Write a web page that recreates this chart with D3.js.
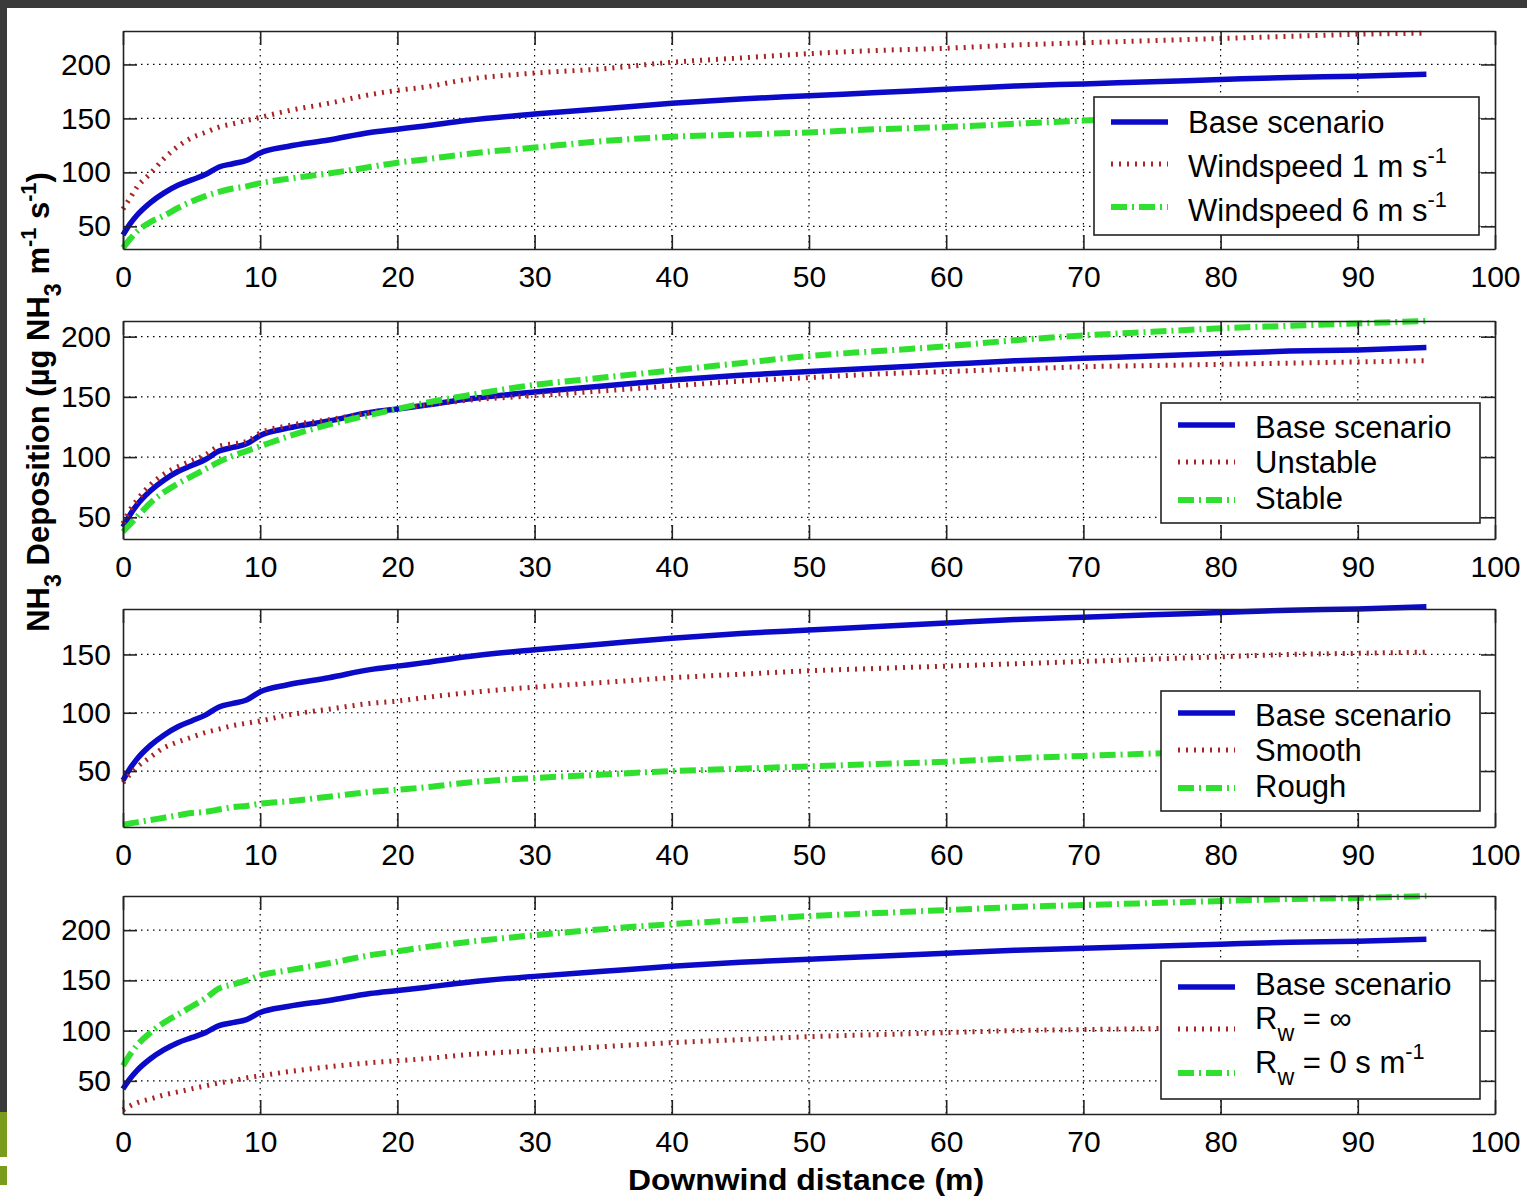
<!DOCTYPE html>
<html>
<head>
<meta charset="utf-8">
<script src="https://cdn.jsdelivr.net/npm/d3@7"></script>
<style>
  html, body { margin: 0; padding: 0; background: #fff; }
  svg { display: block; }
  text { font-family: "Liberation Sans", Arial, Helvetica, sans-serif; fill: #000; }
</style>
</head>
<body>
<div id="chart"></div>
<script>
const distance = [0, 0.5, 1, 2, 3, 4, 5, 6, 7, 8, 9, 10, 12, 15, 18, 20, 22, 25, 30, 35, 40, 45, 50, 55, 60, 65, 70, 75, 80, 85, 90, 95];

// NH3 deposition (ug NH3 m-1 s-1)
const baseScenario = [42, 52, 60, 72, 81, 88, 93, 98, 105, 108, 111, 118, 124, 130, 137, 140, 143, 148, 154, 159, 164, 168, 171, 174, 177, 180, 182, 184, 186, 188, 189, 191];
const windspeed1   = [66, 76, 86, 99, 113, 124, 132, 137, 142, 145, 148, 151, 157, 164, 172, 176, 179, 186, 192, 196, 202, 206, 210, 213, 215, 218, 220, 222, 224, 226, 228, 229];
const windspeed6   = [30, 38, 45, 54, 60, 67, 73, 78, 82, 85, 87, 90, 94, 99, 105, 109, 112, 117, 123, 129, 133, 135, 137, 140, 142, 145, 148, 150, 152, 154, 156, 158];
const unstable     = [45, 56, 64, 77, 86, 92, 97, 102, 109, 111, 113, 120, 126, 131, 137, 140, 143, 147, 151, 155, 159, 163, 166, 169, 171, 173, 175, 176, 177, 178, 179, 180];
const stable       = [38, 44, 50, 62, 71, 78, 84, 90, 96, 101, 105, 109, 117, 127, 135, 140, 145, 151, 160, 166, 172, 178, 184, 188, 192, 197, 201, 204, 207, 209, 211, 213];
const smooth       = [40, 47, 53, 62, 70, 75, 79, 83, 86, 89, 91, 93, 98, 103, 108, 110, 113, 117, 122, 126, 130, 133, 136, 138, 140, 142, 144, 146, 148, 150, 151, 152];
const rough        = [4, 5, 6, 8, 10, 12, 14, 15, 17, 19, 20, 22, 24, 28, 32, 34, 36, 40, 44, 47, 50, 52, 54, 56, 58, 61, 63, 65, 67, 69, 70, 72];
const rwInfinite   = [21, 25, 28, 32, 36, 39, 42, 45, 48, 50, 53, 55, 59, 64, 68, 70, 72, 76, 80, 84, 88, 91, 94, 96, 98, 100, 101, 102, 103, 105, 106, 107];
const rwZero       = [65, 76, 85, 98, 108, 116, 124, 132, 142, 146, 150, 155, 160, 167, 175, 179, 183, 188, 195, 201, 206, 210, 214, 217, 220, 223, 225, 227, 229, 231, 232, 234];

// tick labels
const xTicks = [0, 10, 20, 30, 40, 50, 60, 70, 80, 90, 100];
const yTicksFull = [50, 100, 150, 200];
const yTicksLow = [50, 100, 150];

// legend labels: [text, "sup" | "sub" | undefined]
const legendWind = [[["Base scenario"]], [["Windspeed 1 m s"], ["-1", "sup"]], [["Windspeed 6 m s"], ["-1", "sup"]]];
const legendStability = [[["Base scenario"]], [["Unstable"]], [["Stable"]]];
const legendRoughness = [[["Base scenario"]], [["Smooth"]], [["Rough"]]];
const legendRw = [[["Base scenario"]], [["R"], ["w", "sub"], [" = \u221E"]], [["R"], ["w", "sub"], [" = 0 s m"], ["-1", "sup"]]];

const panels = [
  { series: [baseScenario, windspeed1, windspeed6], yDomain: [29, 231], yTicks: yTicksFull, legend: legendWind,
    top: 31, box: { x: 1094, y: 97, w: 385, h: 138 }, rows: [122, 166, 210], lines: [122, 164, 207] },
  { series: [baseScenario, unstable, stable], yDomain: [32, 213], yTicks: yTicksFull, legend: legendStability,
    top: 321, box: { x: 1161, y: 403, w: 319, h: 120 }, rows: [427, 462, 498], lines: [425, 462, 500] },
  { series: [baseScenario, smooth, rough], yDomain: [2, 189], yTicks: yTicksLow, legend: legendRoughness,
    top: 609, box: { x: 1161, y: 691, w: 319, h: 120 }, rows: [715, 750, 786], lines: [713, 750, 788] },
  { series: [baseScenario, rwInfinite, rwZero], yDomain: [17, 234], yTicks: yTicksFull, legend: legendRw,
    top: 896, box: { x: 1161, y: 961, w: 319, h: 138 }, rows: [984, 1018, 1062], lines: [987, 1029, 1073] }
];

// line styles for base / first variant / second variant
const lineStyles = [
  { color: "#0a0ac8", width: 5.5, dash: null },
  { color: "#a82424", width: 5, dash: "2,6" },
  { color: "#2fe02f", width: 6, dash: "16,5,2,5" }
];

const width = 1527, height = 1196;
const plotLeft = 123, plotRight = 1495, plotHeight = 218;
const tickLen = 14;

const svg = d3.select("#chart").append("svg")
  .attr("width", width)
  .attr("height", height);

svg.append("rect").attr("width", width).attr("height", height).attr("fill", "#fff");

// dark frame of the screenshot
svg.append("rect").attr("x", 0).attr("y", 0).attr("width", width).attr("height", 8).attr("fill", "#3a3a3a");
svg.append("rect").attr("x", 0).attr("y", 0).attr("width", 7).attr("height", 1112).attr("fill", "#3a3a3a");
svg.append("rect").attr("x", 0).attr("y", 1112).attr("width", 7).attr("height", 45).attr("fill", "#7a9c1c");
svg.append("rect").attr("x", 0).attr("y", 1166).attr("width", 7).attr("height", 19).attr("fill", "#7a9c1c");

const x = d3.scaleLinear().domain([0, 100]).range([plotLeft, plotRight]);

// writes mixed normal / super / subscript text into a <text>
function richText(textSel, parts, size) {
  let offset = 0;
  parts.forEach(([t, kind]) => {
    const target = kind === "sup" ? -0.42 * size : kind === "sub" ? 0.4 * size : 0;
    textSel.append("tspan")
      .attr("dy", target - offset)
      .attr("font-size", kind === "sup" ? size * 0.7 : kind === "sub" ? size * 0.75 : size)
      .text(t);
    offset = target;
  });
}

panels.forEach(p => {
  const y = d3.scaleLinear().domain(p.yDomain).range([p.top + plotHeight, p.top]);
  const g = svg.append("g");

  // dotted grid
  g.selectAll(".gx").data(xTicks.slice(1, -1)).enter().append("line")
    .attr("x1", d => x(d)).attr("x2", d => x(d))
    .attr("y1", p.top).attr("y2", p.top + plotHeight)
    .attr("stroke", "#000").attr("stroke-width", 1.2).attr("stroke-dasharray", "1.5,4.5");
  g.selectAll(".gy").data(p.yTicks).enter().append("line")
    .attr("x1", plotLeft).attr("x2", plotRight)
    .attr("y1", d => y(d)).attr("y2", d => y(d))
    .attr("stroke", "#000").attr("stroke-width", 1.2).attr("stroke-dasharray", "1.5,4.5");

  // curves
  const line = d3.line().x((d, i) => x(distance[i])).y(d => y(d)).curve(d3.curveMonotoneX);
  p.series.forEach((s, k) => {
    const st = lineStyles[k];
    g.append("path")
      .datum(s)
      .attr("d", line)
      .attr("fill", "none")
      .attr("stroke", st.color)
      .attr("stroke-width", st.width)
      .attr("stroke-dasharray", st.dash)
      .attr("stroke-linejoin", "round");
  });

  // axes, ticks pointing inwards like matlab
  const axes = [
    g.append("g").attr("transform", `translate(${plotLeft},0)`)
      .call(d3.axisLeft(y).tickValues(p.yTicks).tickSize(-tickLen).tickSizeOuter(0).tickPadding(12)),
    g.append("g").attr("transform", `translate(${plotRight},0)`)
      .call(d3.axisRight(y).tickValues(p.yTicks).tickSize(-tickLen).tickSizeOuter(0).tickFormat("")),
    g.append("g").attr("transform", `translate(0,${p.top})`)
      .call(d3.axisTop(x).tickValues(xTicks).tickSize(-tickLen).tickSizeOuter(0).tickFormat("")),
    g.append("g").attr("transform", `translate(0,${p.top + plotHeight})`)
      .call(d3.axisBottom(x).tickValues(xTicks).tickSize(-tickLen).tickSizeOuter(0).tickPadding(17))
  ];
  axes.forEach(a => {
    a.select(".domain").attr("stroke", "#222").attr("stroke-width", 1.6);
    a.selectAll(".tick line").attr("stroke", "#222").attr("stroke-width", 1.6);
    a.selectAll(".tick text")
      .attr("font-size", 30)
      .attr("font-family", "'Liberation Sans', Arial, sans-serif")
      .attr("fill", "#000");
  });

  // legend
  const lg = g.append("g");
  lg.append("rect")
    .attr("x", p.box.x).attr("y", p.box.y)
    .attr("width", p.box.w).attr("height", p.box.h)
    .attr("fill", "#fff").attr("stroke", "#222").attr("stroke-width", 1.6);
  p.legend.forEach((label, k) => {
    const st = lineStyles[k];
    lg.append("line")
      .attr("x1", p.box.x + 17).attr("x2", p.box.x + 74)
      .attr("y1", p.lines[k]).attr("y2", p.lines[k])
      .attr("stroke", st.color).attr("stroke-width", st.width)
      .attr("stroke-dasharray", st.dash);
    const t = lg.append("text")
      .attr("x", p.box.x + 94)
      .attr("y", p.rows[k] + 10.5);
    richText(t, label, 31);
  });
});

// axis titles
svg.append("text")
  .attr("x", 806)
  .attr("y", 1190)
  .attr("text-anchor", "middle")
  .attr("font-size", 29)
  .attr("font-weight", "bold")
  .attr("textLength", 356)
  .attr("lengthAdjust", "spacingAndGlyphs")
  .text("Downwind distance (m)");

const yTitle = svg.append("text")
  .attr("transform", "translate(49,402) rotate(-90)")
  .attr("text-anchor", "middle")
  .attr("font-weight", "bold");
richText(yTitle, [["NH"], ["3", "sub"], [" Deposition (\u00B5g NH"], ["3", "sub"], [" m"], ["-1", "sup"], [" s"], ["-1", "sup"], [")"]], 31);
</script>
</body>
</html>
